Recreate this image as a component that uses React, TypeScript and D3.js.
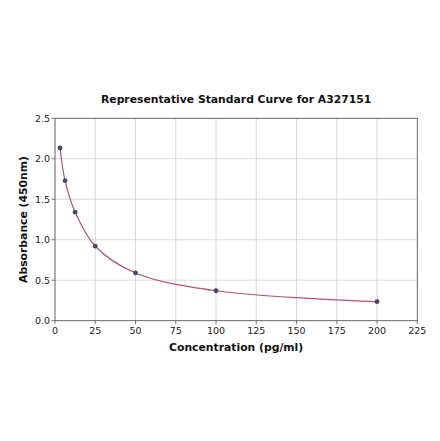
import React from "react";
import * as d3 from "d3";

const concentrations = [3.125, 6.25, 12.5, 25, 50, 100, 200];
const absorbances = [2.133, 1.73, 1.34, 0.92, 0.59, 0.37, 0.235];
const xTicks = [0, 25, 50, 75, 100, 125, 150, 175, 200, 225];
const yTicks = [0, 0.5, 1.0, 1.5, 2.0, 2.5];
const title = "Representative Standard Curve for A327151";
const xLabel = "Concentration (pg/ml)";
const yLabel = "Absorbance (450nm)";

export default function App() {
  const W = 440, H = 441;
  const left = 55, right = 417.3, top = 118.3, bottom = 320.7;
  const x = d3.scaleLinear().domain([0, 225]).range([left, right]);
  const y = d3.scaleLinear().domain([0, 2.5]).range([bottom, top]);
  const pts: [number, number][] = concentrations.map((c, i) => [c, absorbances[i]]);
  const line = d3
    .line<[number, number]>()
    .x((d) => x(d[0]))
    .y((d) => y(d[1]))
    .curve(d3.curveCatmullRom.alpha(0.5));
  const font = "DejaVu Sans, sans-serif";
  return (
    <svg width={W} height={H} style={{ position: "absolute", left: 0, top: 0 }}>
      <rect width={W} height={H} fill="#fff" />
      {xTicks.map((t) => (
        <line key={"gx" + t} x1={x(t)} x2={x(t)} y1={top} y2={bottom} stroke="#cfcfcf" strokeWidth={0.8} />
      ))}
      {yTicks.map((t) => (
        <line key={"gy" + t} x1={left} x2={right} y1={y(t)} y2={y(t)} stroke="#cfcfcf" strokeWidth={0.8} />
      ))}
      <rect x={left} y={top} width={right - left} height={bottom - top} fill="none" stroke="#555" strokeWidth={0.8} />
      {xTicks.map((t) => (
        <g key={"tx" + t}>
          <line x1={x(t)} x2={x(t)} y1={bottom} y2={bottom + 3.5} stroke="#555" strokeWidth={0.8} />
          <text x={x(t)} y={bottom + 13.3} textAnchor="middle" fontFamily={font} fontSize={9.5} fill="#222">
            {t}
          </text>
        </g>
      ))}
      {yTicks.map((t) => (
        <g key={"ty" + t}>
          <line x1={left - 3.5} x2={left} y1={y(t)} y2={y(t)} stroke="#555" strokeWidth={0.8} />
          <text x={left - 5} y={y(t) + 3.4} textAnchor="end" fontFamily={font} fontSize={9.5} fill="#222">
            {t.toFixed(1)}
          </text>
        </g>
      ))}
      <path d={line(pts) || ""} fill="none" stroke="#b5526f" strokeWidth={1.2} />
      {pts.map((p, i) => (
        <circle key={i} cx={x(p[0])} cy={y(p[1])} r={2.4} fill="#3f4a6e" />
      ))}
      <text x={(left + right) / 2} y={103} textAnchor="middle" fontFamily={font} fontWeight="bold" fontSize={10.8} fill="#111">
        {title}
      </text>
      <text x={(left + right) / 2} y={350.5} textAnchor="middle" fontFamily={font} fontWeight="bold" fontSize={10.8} fill="#111">
        {xLabel}
      </text>
      <text
        transform={`translate(26.5,${(top + bottom) / 2}) rotate(-90)`}
        textAnchor="middle"
        fontFamily={font}
        fontWeight="bold"
        fontSize={10.8}
        fill="#111"
      >
        {yLabel}
      </text>
    </svg>
  );
}
